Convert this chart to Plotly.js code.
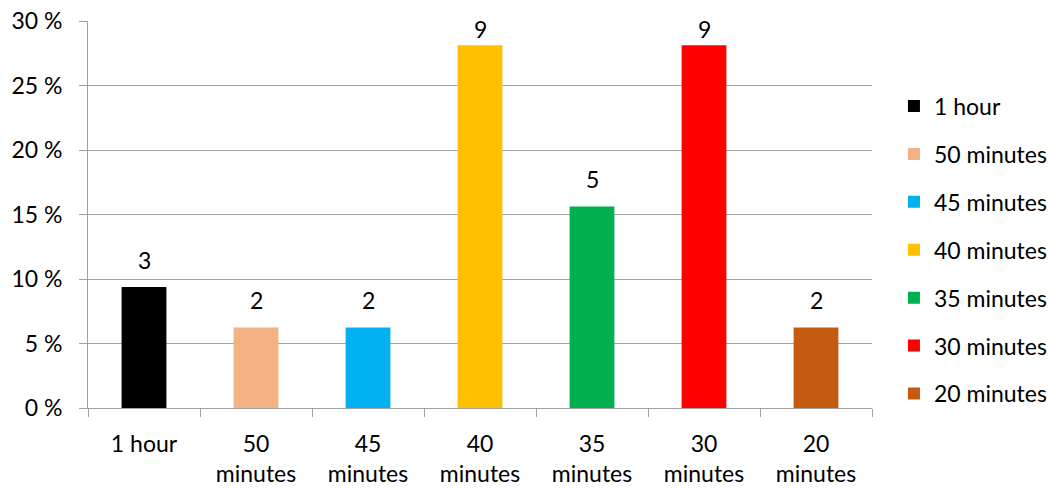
<!DOCTYPE html>
<html>
<head>
<meta charset="utf-8">
<script src="https://cdn.plot.ly/plotly-3.0.1.min.js"></script>
<style>html,body{margin:0;padding:0;background:#fff;}#chart{width:1064px;height:489px;}</style>
</head>
<body>
<div id="chart"></div>
<script>
var categories = ["1 hour", "50 minutes", "45 minutes", "40 minutes", "35 minutes", "30 minutes", "20 minutes"];
var tickLabels = ["1 hour", "50<br>minutes", "45<br>minutes", "40<br>minutes", "35<br>minutes", "30<br>minutes", "20<br>minutes"];
var counts = [3, 2, 2, 9, 5, 9, 2];
var percentages = [9.375, 6.25, 6.25, 28.125, 15.625, 28.125, 6.25];
var yTickVals = [0, 5, 10, 15, 20, 25, 30];
var yTickText = ["0 %", "5 %", "10 %", "15 %", "20 %", "25 %", "30 %"];
var colors = ["#000000", "#F4B183", "#00B0F0", "#FFC000", "#00B050", "#FF0000", "#C55A11"];

var FONT = "Lato, 'Open Sans', sans-serif";
var FS = 23;
var YMAX = 30;
var plotH = 489 - 21 - 81;
var pxPerUnit = plotH / YMAX;

var traces = categories.map(function (c, i) {
  return {
    type: "bar",
    name: c,
    x: [c],
    y: [percentages[i]],
    width: 0.4,
    marker: {color: colors[i]},
    legendgroup: "g" + i,
    hoverinfo: "none"
  };
});

var annotations = categories.map(function (c, i) {
  var room = (YMAX - percentages[i]) * pxPerUnit - 8;
  return {
    x: c, y: percentages[i], xref: "x", yref: "y",
    text: String(counts[i]), showarrow: false,
    xanchor: "center", yanchor: "middle",
    yshift: Math.min(27, room),
    font: {family: FONT, size: FS, color: "#000"}
  };
});

var layout = {
  width: 1064, height: 489,
  margin: {l: 88, r: 192, t: 21, b: 81, autoexpand: false},
  paper_bgcolor: "#fff", plot_bgcolor: "#fff",
  barmode: "overlay",
  font: {family: FONT, size: FS, color: "#000"},
  showlegend: true,
  annotations: annotations,
  legend: {x: 1.028, xanchor: "left", y: 0.408, yanchor: "middle", xref: "paper",
    font: {family: FONT, size: FS, color: "#000"}, tracegroupgap: 15, itemwidth: 30,
    bgcolor: "rgba(0,0,0,0)"},
  xaxis: {
    type: "category", categoryorder: "array", categoryarray: categories,
    tickvals: categories, ticktext: tickLabels,
    tickson: "boundaries", ticks: "outside", ticklen: 8, tickcolor: "#A0A0A0",
    showline: true, linecolor: "#A0A0A0", linewidth: 1,
    showgrid: false, zeroline: false, range: [-0.5, 6.5],
    ticklabelstandoff: 15,
    tickfont: {family: FONT, size: FS, color: "#000"}
  },
  yaxis: {
    range: [0, YMAX], tickmode: "array", tickvals: yTickVals, ticktext: yTickText,
    ticks: "outside", ticklen: 8, tickcolor: "#A0A0A0",
    showgrid: true, gridcolor: "#A0A0A0", gridwidth: 1,
    showline: true, linecolor: "#A0A0A0", linewidth: 1, zeroline: false,
    ticklabelstandoff: 12,
    tickfont: {family: FONT, size: FS, color: "#000"}
  }
};

Plotly.newPlot("chart", traces, layout, {displayModeBar: false, staticPlot: true});
</script>
</body>
</html>
